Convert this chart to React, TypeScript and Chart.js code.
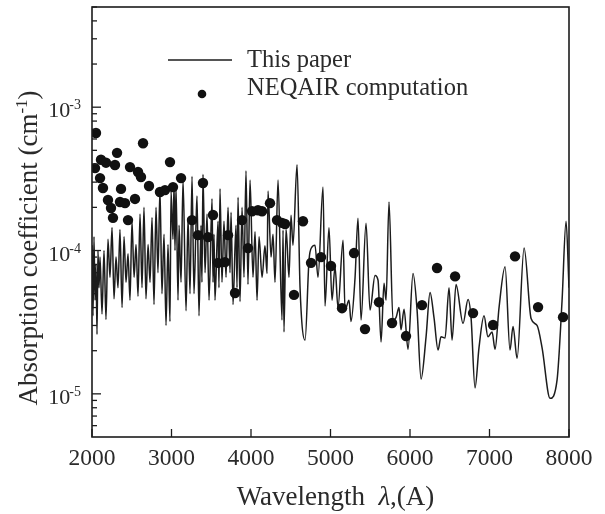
import React, { useEffect, useRef } from 'react';
import { Chart, registerables } from 'chart.js';

Chart.register(...registerables);

// ---- Data ----
const lineWavelengths = [
  2000, 2013, 2025, 2038, 2050, 2063, 2075, 2088, 2101, 2126,
  2151, 2176, 2201, 2226, 2252, 2277, 2302, 2327, 2352, 2378,
  2403, 2428, 2453, 2478, 2503, 2529, 2554, 2579, 2604, 2629,
  2654, 2679, 2705, 2730, 2755, 2780, 2805, 2830, 2855, 2880,
  2906, 2931, 2956, 2981, 2994, 3019, 3032, 3044, 3057, 3082,
  3095, 3120, 3145, 3183, 3208, 3233, 3258, 3283, 3308, 3321,
  3346, 3371, 3383, 3396, 3422, 3447, 3472, 3510, 3522, 3535,
  3547, 3585, 3597, 3610, 3635, 3660, 3686, 3711, 3736, 3749,
  3774, 3811, 3824, 3837, 3862, 3887, 3912, 3937, 3962, 3988,
  4025, 4051, 4076, 4101, 4139, 4176, 4202, 4214, 4252, 4277,
  4302, 4340, 4390, 4403, 4415, 4440, 4453, 4478, 4503, 4528,
  4579, 4617, 4680, 4730, 4768, 4805, 4843, 4906, 4931, 4981,
  5019, 5057, 5094, 5158, 5183, 5233, 5258, 5309, 5346, 5384,
  5447, 5497, 5560, 5598, 5636, 5673, 5699, 5736, 5786, 5824,
  5862, 5887, 5925, 5975, 6038, 6089, 6139, 6202, 6252, 6302,
  6353, 6390, 6441, 6491, 6529, 6579, 6667, 6730, 6768, 6818,
  6868, 6931, 6981, 7032, 7070, 7120, 7196, 7258, 7296, 7347,
  7435, 7523, 7598, 7661, 7762, 7850, 7913, 7963, 8000,
];
const lineValues = [
  1.09e-4, 3.5e-5, 1.25e-4, 4.5e-5, 8.0e-5, 2.6e-5, 1.0e-4, 5.5e-5, 9.0e-5, 3.6e-5,
  1.0e-4, 3.3e-5, 1.2e-4, 6.5e-5, 1.45e-4, 4.6e-5, 9.0e-5, 5.5e-5, 1.4e-4, 4.0e-5,
  1.25e-4, 6.0e-5, 9.5e-5, 4.5e-5, 1.6e-4, 6.5e-5, 1.1e-4, 4.8e-5, 1.8e-4, 5.5e-5,
  2.0e-4, 4.6e-5, 1.1e-4, 6.0e-5, 1.7e-4, 4.2e-5, 2.0e-4, 7.0e-5, 2.7e-4, 5.0e-5,
  1.3e-4, 3.0e-5, 1.1e-4, 3.2e-5, 2.6e-4, 1.2e-4, 2.9e-4, 1.0e-4, 2.8e-4, 4.5e-5,
  1.5e-4, 6.0e-5, 3.1e-4, 3.8e-5, 1.7e-4, 5.0e-5, 3.3e-4, 5.0e-5, 1.5e-4, 2.4e-4,
  3.5e-5, 1.5e-4, 6.0e-5, 3.4e-4, 7.0e-5, 1.8e-4, 4.5e-5, 2.3e-4, 6.0e-5, 1.3e-4,
  4.5e-5, 1.6e-4, 5.5e-5, 2.7e-4, 6.0e-5, 1.6e-4, 6.5e-5, 2.0e-4, 7.0e-5, 1.85e-4,
  4.2e-5, 1.5e-4, 5.5e-5, 2.35e-4, 4.4e-5, 2.0e-4, 6.5e-5, 3.6e-4, 5.8e-5, 3.1e-4,
  6.5e-5, 1.35e-4, 4.5e-5, 1.25e-4, 6.5e-5, 1.08e-4, 6.9e-5, 2.6e-4, 9.0e-5, 1.3e-4,
  6.0e-5, 3.1e-4, 3.27e-5, 1.39e-4, 2.7e-5, 1.4e-4, 1.15e-4, 6.5e-5, 1.76e-4, 1.09e-4,
  3.97e-4, 5.5e-5, 2.37e-5, 8.6e-5, 1.06e-4, 1.09e-4, 6.5e-5, 2.77e-4, 4.1e-5, 1.44e-4,
  4.5e-5, 7.7e-5, 4.0e-5, 1.18e-4, 3.84e-5, 4.5e-5, 3.2e-5, 6.5e-5, 1.68e-4, 3.27e-5,
  1.55e-4, 3.84e-5, 6.7e-5, 6.2e-5, 2.3e-5, 5.9e-5, 4.5e-5, 2.18e-4, 3.27e-5, 3.4e-5,
  4.0e-5, 2.8e-5, 3.9e-5, 2.05e-5, 6.9e-5, 3.84e-5, 1.27e-5, 2.5e-5, 5.1e-5, 3.4e-5,
  2.02e-5, 2.5e-5, 2.45e-5, 5.5e-5, 2.37e-5, 5.8e-5, 3.1e-5, 4.55e-5, 3.4e-5, 1.1e-5,
  2.1e-5, 3.5e-5, 2.5e-5, 2.7e-5, 2.05e-5, 4.0e-5, 7.7e-5, 2.02e-5, 2.95e-5, 1.77e-5,
  1.04e-4, 3.35e-5, 3.0e-5, 2.1e-5, 9.3e-6, 1.25e-5, 4.5e-5, 1.6e-4, 5.5e-5,
];

const dotWavelengths = [
  2038, 2050, 2101, 2113, 2138, 2176, 2201, 2239, 2264, 2289,
  2315, 2352, 2365, 2415, 2453, 2478, 2541, 2579, 2616, 2642,
  2717, 2855, 2918, 2981, 3019, 3120, 3258, 3333, 3396, 3459,
  3522, 3585, 3673, 3711, 3799, 3887, 3962, 4013, 4088, 4139,
  4239, 4327, 4390, 4428, 4541, 4654, 4755, 4881, 5006, 5145,
  5296, 5434, 5610, 5774, 5950, 6151, 6340, 6567, 6793, 7045,
  7321, 7611, 7925,
];
const dotValues = [
  3.76e-4, 6.6e-4, 3.2e-4, 4.3e-4, 2.73e-4, 4.1e-4, 2.25e-4, 1.98e-4, 1.69e-4, 3.95e-4,
  4.8e-4, 2.18e-4, 2.69e-4, 2.14e-4, 1.63e-4, 3.82e-4, 2.29e-4, 3.53e-4, 3.26e-4, 5.6e-4,
  2.82e-4, 2.56e-4, 2.64e-4, 4.14e-4, 2.77e-4, 3.2e-4, 1.63e-4, 1.28e-4, 2.96e-4, 1.24e-4,
  1.77e-4, 8.2e-5, 8.3e-5, 1.28e-4, 5.05e-5, 1.63e-4, 1.04e-4, 1.88e-4, 1.91e-4, 1.88e-4,
  2.14e-4, 1.63e-4, 1.56e-4, 1.53e-4, 4.9e-5, 1.6e-4, 8.2e-5, 9.0e-5, 7.8e-5, 3.96e-5,
  9.6e-5, 2.83e-5, 4.36e-5, 3.12e-5, 2.53e-5, 4.16e-5, 7.55e-5, 6.6e-5, 3.66e-5, 3.02e-5,
  9.1e-5, 4.03e-5, 3.43e-5,
];

const seriesLabels = ['This paper', 'NEQAIR computation'];
const xTickValues = [2000, 3000, 4000, 5000, 6000, 7000, 8000];
const yMajorTicks = [1e-5, 1e-4, 1e-3];
const yMinorMultipliers = [2, 3, 4, 5, 6, 7, 8, 9];
const yDecades = [1e-6, 1e-5, 1e-4, 1e-3];
const xMin = 2000;
const xMax = 8000;
const yMin = 5e-6;
const yMax = 5e-3;

const SERIF = '"Liberation Serif", "Times New Roman", serif';
const INK = '#1c1c1c';
const TEXT = '#2a2a2a';

const decorPlugin = {
  id: 'decor',
  afterDraw(chart: any) {
    const { ctx, chartArea } = chart;
    const { left, right, top, bottom } = chartArea;
    const xs = chart.scales.x;
    const ys = chart.scales.y;
    ctx.save();

    // frame
    ctx.strokeStyle = INK;
    ctx.lineWidth = 1.6;
    ctx.strokeRect(left, top, right - left, bottom - top);

    // x ticks (inward) + labels
    ctx.lineWidth = 1.3;
    ctx.fillStyle = TEXT;
    ctx.font = `23.5px ${SERIF}`;
    ctx.textAlign = 'center';
    ctx.textBaseline = 'alphabetic';
    for (const v of xTickValues) {
      const px = xs.getPixelForValue(v);
      ctx.beginPath();
      ctx.moveTo(px, bottom);
      ctx.lineTo(px, bottom - 8);
      ctx.stroke();
      ctx.fillText(String(v), px, bottom + 28);
    }

    // y minor ticks
    for (const d of yDecades) {
      for (const m of yMinorMultipliers) {
        const v = d * m;
        if (v < yMin || v > yMax) continue;
        const py = ys.getPixelForValue(v);
        ctx.beginPath();
        ctx.moveTo(left, py);
        ctx.lineTo(left + 5, py);
        ctx.stroke();
      }
    }
    // y major ticks + labels
    for (const v of yMajorTicks) {
      const py = ys.getPixelForValue(v);
      ctx.beginPath();
      ctx.moveTo(left, py);
      ctx.lineTo(left + 9, py);
      ctx.stroke();
      const expStr = String(Math.round(Math.log10(v)));
      const rightEdge = left - 11;
      ctx.textAlign = 'right';
      ctx.font = `14px ${SERIF}`;
      const ew = ctx.measureText(expStr).width;
      ctx.fillText(expStr, rightEdge, py + 2);
      ctx.font = `22px ${SERIF}`;
      ctx.fillText('10', rightEdge - ew + 1, py + 10);
    }

    // x title
    const xParts: [string, string][] = [
      ['Wavelength', `27px ${SERIF}`],
      ['  ', `27px ${SERIF}`],
      ['\u03bb', `italic 27px ${SERIF}`],
      [',(A)', `27px ${SERIF}`],
    ];
    let total = 0;
    for (const [t, f] of xParts) { ctx.font = f; total += ctx.measureText(t).width; }
    let cx = (left + right) / 2 + 5 - total / 2;
    ctx.textAlign = 'left';
    for (const [t, f] of xParts) {
      ctx.font = f;
      ctx.fillText(t, cx, 505);
      cx += ctx.measureText(t).width;
    }

    // y title (rotated)
    ctx.save();
    ctx.translate(37, 248);
    ctx.rotate(-Math.PI / 2);
    const yParts: [string, string, number][] = [
      ['Absorption coefficient (cm', `27px ${SERIF}`, 0],
      ['-1', `17px ${SERIF}`, -10],
      [')', `27px ${SERIF}`, 0],
    ];
    let ytot = 0;
    for (const [t, f] of yParts) { ctx.font = f; ytot += ctx.measureText(t).width; }
    let yx = -ytot / 2;
    for (const [t, f, dy] of yParts) {
      ctx.font = f;
      ctx.fillText(t, yx, dy);
      yx += ctx.measureText(t).width;
    }
    ctx.restore();

    // legend
    ctx.strokeStyle = INK;
    ctx.lineWidth = 1.5;
    ctx.beginPath();
    ctx.moveTo(168, 60);
    ctx.lineTo(232, 60);
    ctx.stroke();
    ctx.fillStyle = '#111';
    ctx.beginPath();
    ctx.arc(202, 94, 4.3, 0, Math.PI * 2);
    ctx.fill();
    ctx.fillStyle = TEXT;
    ctx.font = `24.5px ${SERIF}`;
    ctx.textAlign = 'left';
    ctx.fillText(seriesLabels[0], 247, 67);
    ctx.fillText(seriesLabels[1], 247, 95);

    ctx.restore();
  },
};

export default function App() {
  const canvasRef = useRef<HTMLCanvasElement | null>(null);

  useEffect(() => {
    const canvas = canvasRef.current;
    if (!canvas) return;
    const n = Math.min(lineWavelengths.length, lineValues.length);
    const lineData = [];
    for (let i = 0; i < n; i++) lineData.push({ x: lineWavelengths[i], y: lineValues[i] });
    const m = Math.min(dotWavelengths.length, dotValues.length);
    const dotData = [];
    for (let i = 0; i < m; i++) dotData.push({ x: dotWavelengths[i], y: dotValues[i] });

    const chart = new Chart(canvas, {
      type: 'scatter',
      data: {
        datasets: [
          {
            label: seriesLabels[0],
            data: lineData,
            showLine: true,
            borderColor: INK,
            borderWidth: 1.5,
            pointRadius: 0,
            cubicInterpolationMode: 'monotone',
            order: 2,
          },
          {
            label: seriesLabels[1],
            data: dotData,
            showLine: false,
            pointRadius: 5.2,
            pointBackgroundColor: '#111',
            pointBorderWidth: 0,
            backgroundColor: '#111',
            borderColor: '#111',
            order: 1,
          },
        ],
      },
      options: {
        responsive: false,
        animation: false,
        devicePixelRatio: 1,
        layout: { padding: { left: 0, right: 36, top: 7, bottom: 0 } },
        plugins: {
          legend: { display: false },
          tooltip: { enabled: false },
        },
        scales: {
          x: {
            type: 'linear',
            min: xMin,
            max: xMax,
            ticks: { display: false, stepSize: 1000 },
            grid: { display: false, drawTicks: false },
            border: { display: false },
            afterFit: (s: any) => { s.height = 77; },
          },
          y: {
            type: 'logarithmic',
            min: yMin,
            max: yMax,
            ticks: { display: false },
            grid: { display: false, drawTicks: false },
            border: { display: false },
            afterFit: (s: any) => { s.width = 92; },
          },
        },
      } as any,
      plugins: [decorPlugin],
    });
    return () => chart.destroy();
  }, []);

  return (
    <div style={{ position: 'absolute', left: 0, top: 0, width: 605, height: 514, background: '#fff' }}>
      <canvas ref={canvasRef} width={605} height={514} style={{ display: 'block' }} />
    </div>
  );
}
